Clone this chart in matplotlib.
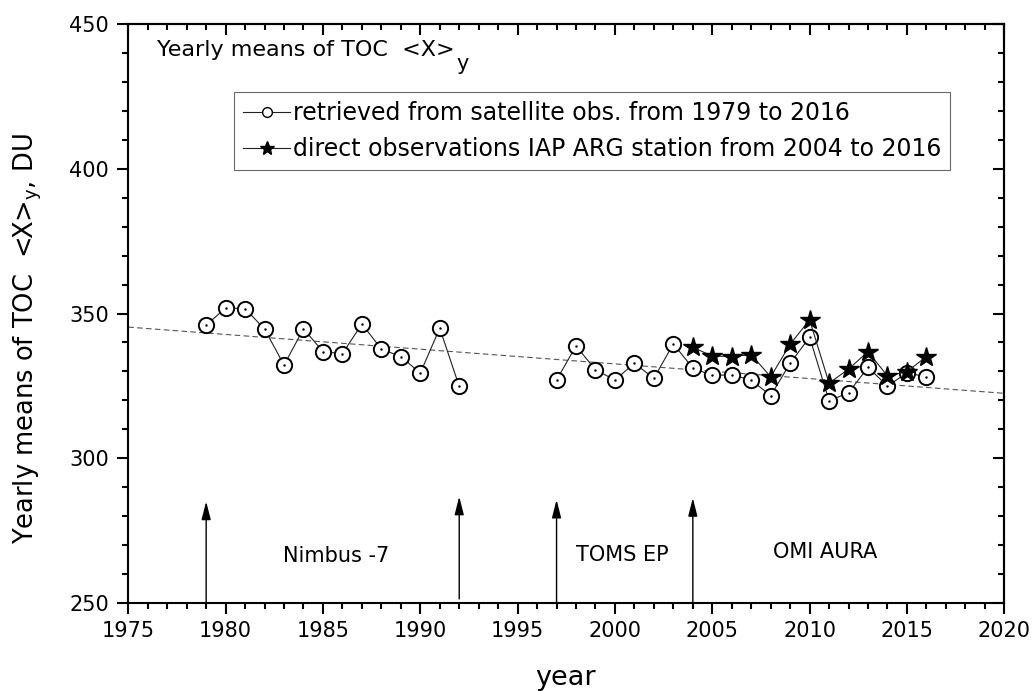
import numpy as np
import matplotlib
matplotlib.use("Agg")
import matplotlib.pyplot as plt
from matplotlib.ticker import MultipleLocator
from matplotlib.lines import Line2D

plt.rcParams['font.family'] = ['DejaVu Sans']

# ---------------- data ----------------
sat_years = list(range(1979, 2017))
sat_values = [346.0, 351.9, 351.7, 344.6, 332.2, 344.7, 336.8, 336.1, 346.4, 337.7,
              335.1, 329.4, 344.9, 324.8, None, None, None, None,
              327.0, 338.8, 330.5, 327.0, 332.8, 327.6, 339.5, 331.1, 328.6, 328.8,
              327.0, 321.6, 332.8, 341.8, 319.8, 322.6, 331.4, 324.9, 329.5, 328.1]
arg_years = list(range(2004, 2017))
arg_values = [338.3, 335.3, 335.1, 335.8, 328.1, 339.4, 347.8, 325.9, 330.8,
              336.8, 328.4, 329.9, 335.1]
trend_years = [1975, 2020]
trend_values = [345.3, 322.4]

arrow_years = [1979, 1992, 1997, 2004]
arrow_bottom = [250.0, 251.3, 250.0, 250.0]
arrow_top = [285.0, 286.7, 285.6, 286.2]

period_labels = ["Nimbus -7", "TOMS EP", "OMI AURA"]
period_x = [1985.7, 2000.4, 2010.8]
period_y = [266.2, 266.5, 267.6]

legend_labels = ["retrieved from satellite obs. from 1979 to 2016",
                 "direct observations IAP ARG station from 2004 to 2016"]
title_main = "Yearly means of TOC  <X>"
title_sub = "y"
ylabel_text = r"Yearly means of TOC  <X>$_\mathregular{y}$, DU"
xlabel_text = "year"

# ---------------- figure ----------------
fig = plt.figure(figsize=(10.33, 6.91), dpi=100)
ax = fig.add_axes([0.1242, 0.1278, 0.848, 0.8370])

sv = np.array([np.nan if v is None else v for v in sat_values], dtype=float)

ax.plot(trend_years, trend_values, ls=(0, (5, 3)), color='#555555', lw=0.8, zorder=1)
ax.plot(sat_years, sv, color='#222222', lw=0.8, marker='o', ms=11,
        mfc='white', mec='black', mew=1.4, zorder=2)
ax.plot(sat_years, sv, ls='none', marker='.', ms=1.5, color='black', zorder=2.5)
ax.plot(arg_years, arg_values, color='#222222', lw=0.8, marker='*', ms=15,
        mfc='black', mec='black', zorder=3)

for xa, yb, yt in zip(arrow_years, arrow_bottom, arrow_top):
    ax.annotate("", xy=(xa, yt), xytext=(xa, yb),
                arrowprops=dict(arrowstyle='-|>,head_length=1.1,head_width=0.28',
                                color='black', lw=1.0, shrinkA=0, shrinkB=0,
                                mutation_scale=10))

for t, xx, yy in zip(period_labels, period_x, period_y):
    ax.text(xx, yy, t, ha='center', va='center', fontsize=15)

# in-plot title with a large, lowered subscript
ax.text(0.0328, 0.9556, title_main, transform=ax.transAxes, ha='left',
        va='center', fontsize=16)
ax.text(0.3745, 0.9320, title_sub, transform=ax.transAxes, ha='left',
        va='center', fontsize=15)

ax.set_xlim(1975, 2020)
ax.set_ylim(250, 450)
ax.xaxis.set_major_locator(MultipleLocator(5))
ax.xaxis.set_minor_locator(MultipleLocator(1))
ax.yaxis.set_major_locator(MultipleLocator(50))
ax.yaxis.set_minor_locator(MultipleLocator(10))
ax.tick_params(which='both', direction='out', width=1.5, top=False, right=False)
ax.tick_params(which='major', length=8)
ax.tick_params(which='minor', length=4.5)
ax.tick_params(axis='x', labelsize=15, pad=5)
ax.tick_params(axis='y', labelsize=15, pad=6)
for s in ax.spines.values():
    s.set_linewidth(1.5)

secx = ax.secondary_xaxis('top')
secx.xaxis.set_major_locator(MultipleLocator(5))
secx.xaxis.set_minor_locator(MultipleLocator(1))
secx.tick_params(which='both', direction='in', width=1.5, labeltop=False)
secx.tick_params(which='major', length=8)
secx.tick_params(which='minor', length=4.5)
secx.spines['top'].set_linewidth(1.5)
secy = ax.secondary_yaxis('right')
secy.yaxis.set_major_locator(MultipleLocator(50))
secy.yaxis.set_minor_locator(MultipleLocator(10))
secy.tick_params(which='both', direction='in', width=1.5, labelright=False)
secy.tick_params(which='major', length=8)
secy.tick_params(which='minor', length=4.5)
secy.spines['right'].set_linewidth(1.5)

fig.text(28 / 1033, 1 - 339 / 691, ylabel_text, rotation=90, ha='center',
         va='center', fontsize=18.5)
fig.text(566 / 1033, 1 - 678 / 691, xlabel_text, ha='center', va='center',
         fontsize=19.5)

handles = [Line2D([], [], color='#222222', lw=0.8, marker='o', ms=7, mfc='white',
                  mec='black', mew=1.0),
           Line2D([], [], color='#222222', lw=0.8, marker='*', ms=10, mfc='black',
                  mec='black')]
leg = ax.legend(handles, legend_labels, loc='upper left',
                bbox_to_anchor=(0.1207, 0.883), borderaxespad=0, fontsize=17,
                frameon=True, fancybox=False, handlelength=2.0, handletextpad=0.1,
                labelspacing=0.5, borderpad=0.38)
leg.get_frame().set_edgecolor('#444444')
leg.get_frame().set_linewidth(0.8)

fig.savefig("out.png", dpi=100)
